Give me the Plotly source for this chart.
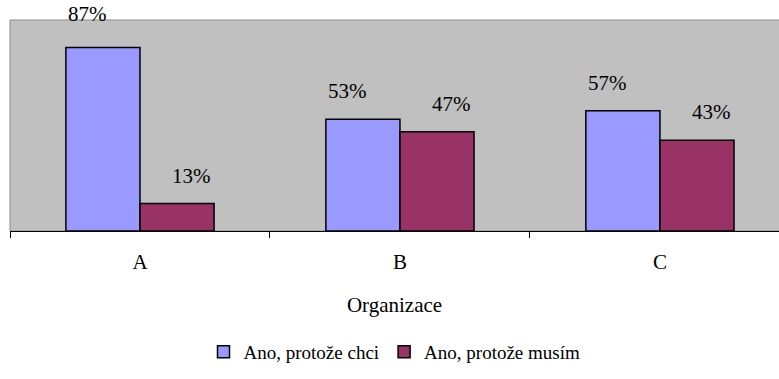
import plotly.graph_objects as go

categories = ["A", "B", "C"]
series_names = ["Ano, protože chci", "Ano, protože musím"]
chci = [87, 53, 57]
musim = [13, 47, 43]
colors = ["#9999FF", "#993366"]

font_family = "Liberation Serif"
font_size = 21

fig = go.Figure()
for name, vals, col in zip(series_names, [chci, musim], colors):
    fig.add_trace(go.Bar(
        x=categories, y=vals, name=name,
        marker=dict(color=col, line=dict(color="black", width=1.5)),
    ))

# value labels above each bar
offsets = [-0.2, 0.2]
for vals, off in zip([chci, musim], offsets):
    for i, v in enumerate(vals):
        fig.add_annotation(
            x=i + off, y=v, xref="x", yref="y",
            text=f"{v}%", showarrow=False,
            yanchor="bottom", yshift=14 if v < 80 else 19,
            font=dict(family=font_family, size=font_size, color="black"),
        )

fig.update_layout(
    width=779, height=379,
    margin=dict(l=10, r=0, t=20, b=148),
    paper_bgcolor="white",
    plot_bgcolor="#C0C0C0",
    barmode="group",
    bargap=0.43,
    bargroupgap=0,
    font=dict(family=font_family, size=font_size, color="black"),
    showlegend=True,
    legend=dict(
        orientation="h", x=0.5, xanchor="center", y=-0.573, yanchor="middle",
        font=dict(family=font_family, size=19, color="black"),
        itemwidth=30,
    ),
    xaxis=dict(
        showline=True, linecolor="black", linewidth=1,
        ticks="outside", ticklen=6, tickcolor="black", tickson="boundaries",
        ticklabelstandoff=12,
        showgrid=False,
        title=dict(text="Organizace", standoff=24,
                   font=dict(family=font_family, size=font_size)),
        tickfont=dict(family=font_family, size=font_size),
        range=[-0.5, 2.458],
    ),
    yaxis=dict(
        range=[0, 100], visible=False, showgrid=False,
    ),
    shapes=[dict(
        type="rect", xref="paper", yref="paper", x0=0, x1=1.01, y0=0, y1=1,
        line=dict(color="#8C8C8C", width=1), layer="below",
    )],
)

fig.write_html("out.html")
